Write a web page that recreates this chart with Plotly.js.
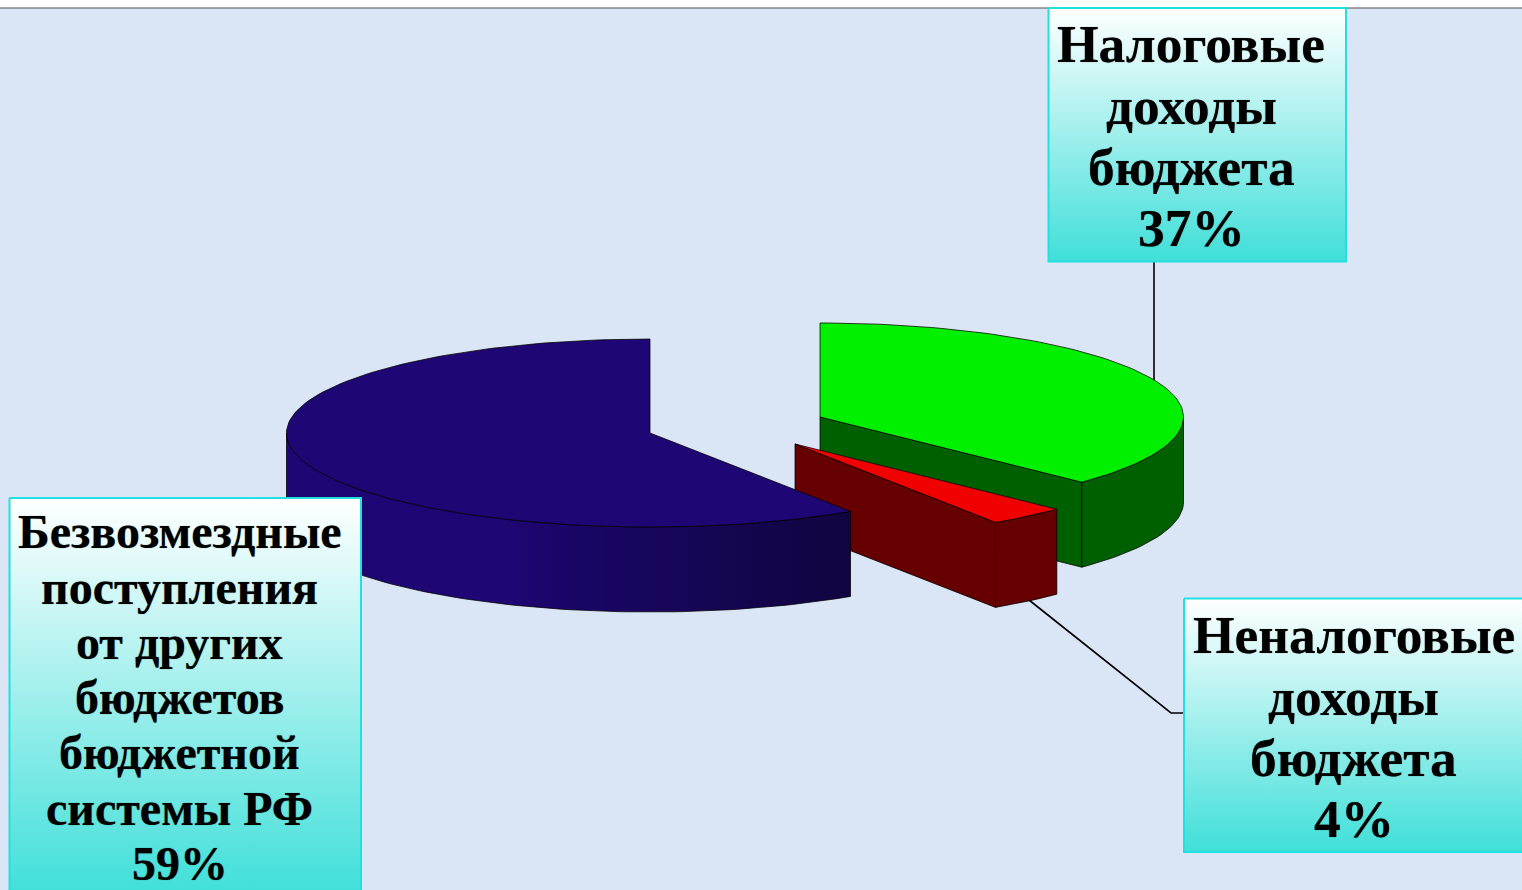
<!DOCTYPE html>
<html>
<head>
<meta charset="utf-8">
<script src="https://cdn.plot.ly/plotly-3.0.1.min.js"></script>
<style>html,body{margin:0;padding:0;background:#fff}#c{width:1522px;height:890px}</style>
</head>
<body>
<div id="c"></div>
<script>
const categories = ["Налоговые доходы бюджета", "Неналоговые доходы бюджета", "Безвозмездные поступления от других бюджетов бюджетной системы РФ"];
const shares = [37.2, 3.5, 59.3];
const linesGreen = ["Налоговые", "доходы", "бюджета", "37%"];
const linesRed = ["Неналоговые", "доходы", "бюджета", "4%"];
const linesBlue = ["Безвозмездные", "поступления", "от других", "бюджетов", "бюджетной", "системы РФ", "59%"];

// Projection of the 3-D pie
const RX = 363.5, RY = 94, DEPTH = 85;
const centres = [[820, 417], [795, 444], [650, 433]];

function arc(c, a0, a1, dy) {
  const xs = [], ys = [], n = Math.max(2, Math.ceil(Math.abs(a1 - a0) / 1.5));
  for (let i = 0; i <= n; i++) {
    const t = (a0 + (a1 - a0) * i / n) * Math.PI / 180;
    xs.push(c[0] + RX * Math.sin(t));
    ys.push(c[1] - RY * Math.cos(t) + (dy || 0));
  }
  return [xs, ys];
}
const edge = {color: "rgba(0,0,0,0.75)", width: 1};
function poly(xs, ys, fill, extra) {
  return Object.assign({
    type: "scatter", mode: "lines", x: xs.concat(xs[0]), y: ys.concat(ys[0]),
    fill: "toself", fillcolor: fill, line: edge, hoverinfo: "skip", showlegend: false
  }, extra || {});
}
function topFace(c, a0, a1, fill) {
  const [x, y] = arc(c, a0, a1);
  return poly([c[0]].concat(x), [c[1]].concat(y), fill);
}
function rimFace(c, a0, a1, fill, extra) {
  const [x, y] = arc(c, a0, a1);
  const [x2, y2] = arc(c, a1, a0, DEPTH);
  return poly(x.concat(x2), y.concat(y2), fill, extra);
}
function cutFace(c, a, fill) {
  const [x, y] = arc(c, a, a);
  const X = [c[0], x[0], x[0], c[0]], Y = [c[1], y[0], y[0] + DEPTH, c[1] + DEPTH];
  return poly(X, Y, fill);
}

// Cumulative angles, clockwise from 12 o'clock
const total = shares.reduce((s, v) => s + v, 0);
const ang = [0];
shares.forEach(v => ang.push(ang[ang.length - 1] + v / total * 360));

const C = {green: "#00F000", greenDark: "#006000", red: "#F00000", redDark: "#660000", blue: "#1F0675", blueDark: "#120440"};
const traces = [];

// Green slice
traces.push(cutFace(centres[0], ang[1], C.greenDark));
traces.push(rimFace(centres[0], 90, ang[1], C.greenDark));
traces.push(topFace(centres[0], ang[0], ang[1], C.green));
// Red slice
traces.push(cutFace(centres[1], ang[2], C.redDark));
traces.push(rimFace(centres[1], ang[1], ang[2], C.redDark));
traces.push(topFace(centres[1], ang[1], ang[2], C.red));
// Blue slice
traces.push(rimFace(centres[2], ang[2], 270, C.blue, {
  fillgradient: {type: "horizontal", start: 850, stop: 287,
    colorscale: [[0, C.blueDark], [0.5, "#1A0566"], [0.62, C.blue], [1, C.blue]]}
}));
traces.push(topFace(centres[2], ang[2], ang[3], C.blue));

// Leader lines
const leader = {color: "#000", width: 1.6};
traces.push({type: "scatter", mode: "lines", x: [1154, 1154], y: [262, 380], line: leader, hoverinfo: "skip", showlegend: false});
traces.push({type: "scatter", mode: "lines", x: [1029, 1171, 1184], y: [600, 713, 713], line: leader, hoverinfo: "skip", showlegend: false});

// Label boxes with a vertical white-to-turquoise gradient
function box(x0, x1, y0, y1) {
  traces.push({
    type: "scatter", mode: "lines", x: [x0, x1, x1, x0, x0], y: [y0, y0, y1, y1, y0],
    fill: "toself", line: {color: "#20E0E0", width: 2}, hoverinfo: "skip", showlegend: false,
    fillcolor: "#ffffff",
    fillgradient: {type: "vertical", start: y0, stop: y1,
      colorscale: [[0, "#FFFFFF"], [1, "#40DFD9"]]}
  });
}
box(1048.5, 1346, 8, 261.5);
box(1184, 1530, 598.5, 852);
box(9.5, 361, 498, 895);

const annotations = [];
function label(lines, cx, ys, size) {
  lines.forEach((t, i) => annotations.push({
    x: cx, y: ys[i], xref: "x", yref: "y", text: t, showarrow: false,
    xanchor: "center", yanchor: "middle",
    font: {family: "Liberation Serif", size: size, color: "#000", weight: 700, shadow: "0 0 1px rgba(0,0,0,0.55)"}
  }));
}
label(linesGreen, 1191, [44, 105.5, 167, 228], 53.4);
label(linesRed, 1353.5, [635, 696.5, 758, 819], 53.4);
label(linesBlue, 179.5, [531.5, 587, 642, 697, 752.5, 808, 863], 48);

const layout = {
  width: 1522, height: 890,
  margin: {l: 0, r: 0, t: 0, b: 0},
  paper_bgcolor: "#DAE6F6", plot_bgcolor: "rgba(0,0,0,0)",
  showlegend: false, hovermode: false,
  xaxis: {range: [0, 1522], visible: false, fixedrange: true},
  yaxis: {range: [890, 0], visible: false, fixedrange: true},
  shapes: [
    {type: "rect", xref: "x", yref: "y", x0: 0, x1: 1522, y0: 0, y1: 8, fillcolor: "#fff", line: {width: 0}, layer: "below"},
    {type: "line", xref: "x", yref: "y", x0: 0, x1: 1522, y0: 8, y1: 8, line: {color: "#505050", width: 1.2}, layer: "below"}
  ],
  annotations: annotations
};
Plotly.newPlot("c", traces, layout, {displayModeBar: false, staticPlot: true});
</script>
</body>
</html>
